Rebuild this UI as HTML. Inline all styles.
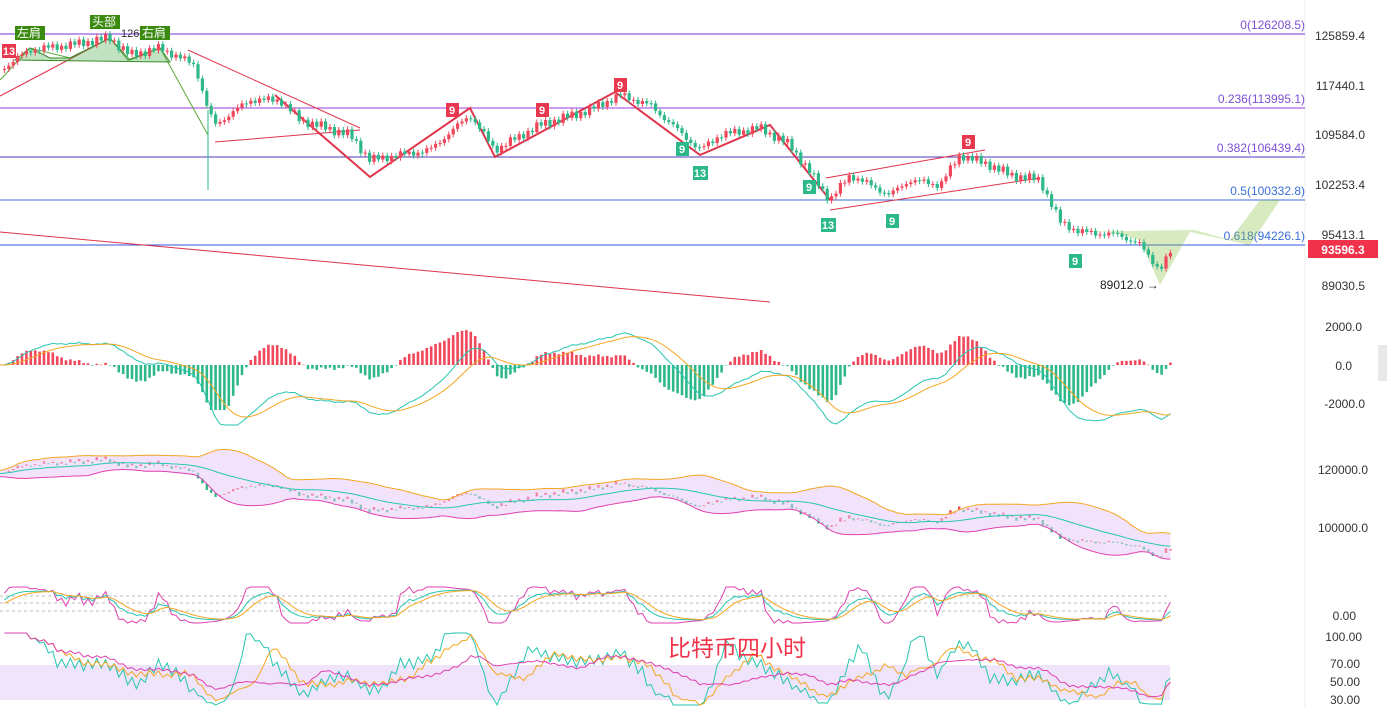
<!DOCTYPE html>
<html><head><meta charset="utf-8">
<style>
html,body{margin:0;padding:0;background:#fff;width:1387px;height:708px;overflow:hidden;font-family:"Liberation Sans","Noto Sans CJK SC",sans-serif}
svg{position:absolute;left:0;top:0}
</style></head>
<body>
<svg id="s" width="1387" height="708" xmlns="http://www.w3.org/2000/svg" font-family="Liberation Sans, Noto Sans CJK SC, sans-serif">
<line x1="1305" y1="0" x2="1305" y2="708" stroke="#eee"/>
<line x1="0" y1="34" x2="1305" y2="34" stroke="#7b2fd6" stroke-width="1"/>
<line x1="0" y1="108" x2="1305" y2="108" stroke="#a03ad8" stroke-width="1"/>
<line x1="0" y1="157" x2="1305" y2="157" stroke="#4b3ab8" stroke-width="1"/>
<line x1="0" y1="200" x2="1305" y2="200" stroke="#3b6fd8" stroke-width="1"/>
<line x1="0" y1="245" x2="1305" y2="245" stroke="#3355dd" stroke-width="1"/>
<g font-size="12" fill="#7b4fd6" text-anchor="end">
<text x="1305" y="29">0(126208.5)</text>
<text x="1305" y="103">0.236(113995.1)</text>
<text x="1305" y="152">0.382(106439.4)</text>
<text x="1305" y="195" fill="#3b6fd8">0.5(100332.8)</text>
<text x="1305" y="240" fill="#3b6fd8">0.618(94226.1)</text>
</g>
<g font-size="12" fill="#333" text-anchor="end">
<text x="1365" y="40">125859.4</text>
<text x="1365" y="90">117440.1</text>
<text x="1365" y="139">109584.0</text>
<text x="1365" y="189">102253.4</text>
<text x="1365" y="239">95413.1</text>
<text x="1365" y="290">89030.5</text>
<text x="1362" y="331">2000.0</text>
<text x="1352" y="370">0.0</text>
<text x="1365" y="408">-2000.0</text>
<text x="1368" y="474">120000.0</text>
<text x="1368" y="532">100000.0</text>
<text x="1356" y="620">0.00</text>
<text x="1362" y="641">100.00</text>
<text x="1360" y="668">70.00</text>
<text x="1360" y="686">50.00</text>
<text x="1360" y="704">30.00</text>
</g>
<rect x="1308" y="240" width="70" height="18" fill="#f0334a"/>
<text x="1343" y="254" font-size="12" fill="#fff" text-anchor="middle" font-weight="bold">93596.3</text>
<rect x="1378" y="345" width="9" height="36" fill="#e8e8e8"/>
<line x1="0" y1="232" x2="770" y2="302" stroke="#e0344a" stroke-width="1"/>
<line x1="0" y1="96" x2="110" y2="38" stroke="#e0344a"/>
<line x1="188" y1="50" x2="360" y2="128" stroke="#e0344a"/>
<line x1="215" y1="142" x2="360" y2="130" stroke="#e0344a"/>
<line x1="826" y1="178" x2="985" y2="150" stroke="#e0344a"/>
<line x1="830" y1="210" x2="1040" y2="178" stroke="#e0344a"/>
<polyline points="275,95 370,177 470,108 495,157 615,92 700,155 770,125 830,200" fill="none" stroke="#e0344a" stroke-width="2"/>
<polyline points="0,80 30,48 70,58 110,38 130,60 160,48 208,135" fill="none" stroke="#5aa832" stroke-width="1"/>
<polygon points="15,60 30,48 50,58 70,58 110,38 128,60 160,48 170,62" fill="#4caf50" fill-opacity="0.35" stroke="#3a8a2a"/>
<polygon points="1065,232 1110,232 1140,240 1160,285 1190,232 1250,245 1280,200 1260,200 1230,240 1195,230" fill="#8bc34a" fill-opacity="0.35"/>
<g font-size="12" fill="#fff">
<rect x="15" y="26" width="30" height="14" fill="#3a8a10"/><text x="17" y="37">左肩</text>
<rect x="90" y="15" width="30" height="14" fill="#3a8a10"/><text x="92" y="26">头部</text>
<rect x="140" y="26" width="30" height="14" fill="#3a8a10"/><text x="142" y="37">右肩</text>
</g>
<text x="121" y="37" font-size="11" fill="#333">126</text>
<text x="1100" y="289" font-size="12" fill="#222">89012.0 →</text>
<g id="cd"></g>
<g font-size="11" font-weight="bold" fill="#fff" text-anchor="middle">
<rect x="2" y="44" width="14" height="14" fill="#e8384f"/><text x="9" y="55">13</text>
<rect x="446" y="103" width="13" height="14" fill="#e8384f"/><text x="452" y="114">9</text>
<rect x="536" y="103" width="13" height="14" fill="#e8384f"/><text x="542" y="114">9</text>
<rect x="614" y="78" width="13" height="14" fill="#e8384f"/><text x="620" y="89">9</text>
<rect x="962" y="135" width="13" height="14" fill="#e8384f"/><text x="968" y="146">9</text>
<rect x="676" y="142" width="13" height="14" fill="#2db88a"/><text x="682" y="153">9</text>
<rect x="693" y="166" width="15" height="14" fill="#2db88a"/><text x="700" y="177">13</text>
<rect x="803" y="180" width="13" height="14" fill="#2db88a"/><text x="809" y="191">9</text>
<rect x="821" y="218" width="15" height="14" fill="#2db88a"/><text x="828" y="229">13</text>
<rect x="886" y="214" width="13" height="14" fill="#2db88a"/><text x="892" y="225">9</text>
<rect x="1069" y="254" width="13" height="14" fill="#2db88a"/><text x="1075" y="265">9</text>
</g>
<rect x="0" y="665" width="1170" height="35" fill="#e8d8f8" fill-opacity="0.7"/>
<line x1="0" y1="596" x2="1170" y2="596" stroke="#bbb" stroke-dasharray="3,3"/>
<line x1="0" y1="603" x2="1170" y2="603" stroke="#bbb" stroke-dasharray="3,3"/>
<line x1="0" y1="611" x2="1170" y2="611" stroke="#bbb" stroke-dasharray="3,3"/>
<g id="ind"></g>
<text x="668" y="656" font-size="23" fill="#f0334a">比特币四小时</text>
</svg>
<script>
var K=[[0,70],[30,50],[70,45],[110,38],[130,55],[160,48],[195,65],[208,110],[215,125],[250,100],[280,100],[300,120],[350,135],[370,160],[400,155],[430,150],[470,115],[495,150],[540,125],[590,110],[620,95],[650,105],[700,150],[720,135],[760,128],[790,145],[830,200],[850,175],[890,195],[910,180],[940,185],[960,155],[990,165],[1010,175],[1040,180],[1060,222],[1080,232],[1120,235],[1140,245],[1160,270],[1172,250]];
function f(x){for(var i=1;i<K.length;i++){if(x<=K[i][0]){var a=K[i-1],b=K[i];return a[1]+(b[1]-a[1])*(x-a[0])/(b[0]-a[0]);}}return 250;}
var NS="http://www.w3.org/2000/svg",cd=document.getElementById('cd'),ind=document.getElementById('ind');
function el(g,t,a){var e=document.createElementNS(NS,t);for(var k in a)e.setAttribute(k,a[k]);g.appendChild(e);return e;}
var xs=[],ys=[];for(var x=0;x<=1172;x+=4.4){xs.push(x);ys.push(f(x)+Math.sin(x*0.7)*3+Math.sin(x*0.23)*2);}
for(var i=1;i<xs.length;i++){var o=ys[i-1],c=ys[i],up=c<o,col=up?'#f0475a':'#2eb88a';var t=Math.min(o,c),h=Math.max(Math.abs(c-o),1);
el(cd,'line',{x1:xs[i],x2:xs[i],y1:t-3,y2:t+h+3,stroke:col});el(cd,'rect',{x:xs[i]-1.6,y:t,width:3.2,height:h,fill:col});
var by=460+(ys[i]-38)*0.42;el(ind,'rect',{x:xs[i]-1.2,y:by-h*0.3,width:2.4,height:Math.max(h*0.4,1),fill:col});}
el(cd,'line',{x1:208,x2:208,y1:110,y2:190,stroke:'#2eb88a'});
var ef=-ys[0],es=-ys[0],dea=0,mp=[],dp=[];
for(var i=0;i<ys.length;i++){var p=-ys[i];ef=ef+(p-ef)*2/13;es=es+(p-es)*2/27;var dif=ef-es;dea=dea+(dif-dea)*2/10;var hh=(dif-dea)*7;
hh=Math.max(-45,Math.min(40,hh));
var col=hh>0?'#f0475a':'#2eb88a';el(ind,'rect',{x:xs[i]-1.3,y:Math.min(365,365-hh),width:2.6,height:Math.max(Math.abs(hh),0.5),fill:col});
mp.push(xs[i]+','+(365-Math.max(-60,Math.min(45,dif*3.5))));dp.push(xs[i]+','+(365-Math.max(-55,Math.min(40,dea*3.5))));}
el(ind,'polyline',{points:mp.join(' '),fill:'none',stroke:'#26c6b0'});el(ind,'polyline',{points:dp.join(' '),fill:'none',stroke:'#f5a623'});
var up=[],lo=[],md=[];for(var i=0;i<ys.length;i++){var s=0,n=0,q=0;for(var j=Math.max(0,i-20);j<=i;j++){s+=ys[j];n++;}var m=s/n;for(j=Math.max(0,i-20);j<=i;j++)q+=(ys[j]-m)*(ys[j]-m);var sd=Math.sqrt(q/n)+4;
var my=460+(m-38)*0.42;md.push(xs[i]+','+my);up.push(xs[i]+','+(my-sd*0.8));lo.push(xs[i]+','+(my+sd*0.8));}
el(ind,'polygon',{points:up.join(' ')+' '+lo.slice().reverse().join(' '),fill:'#e8c8f5',"fill-opacity":0.5});
el(ind,'polyline',{points:up.join(' '),fill:'none',stroke:'#f5a623'});el(ind,'polyline',{points:lo.join(' '),fill:'none',stroke:'#e040b0'});el(ind,'polyline',{points:md.join(' '),fill:'none',stroke:'#26c6b0'});
var k1=[],k2=[],k3=[],r1=[],r2=[],r3=[],a=50,b=50,cc=50,ra=50,rb=50,rc=50;
function rsi(i,n){var g=0,l=0;for(var j=Math.max(1,i-n);j<=i;j++){var d=ys[j-1]-ys[j];if(d>0)g+=d;else l-=d;}return g+l==0?50:100*g/(g+l);}
for(var i=1;i<ys.length;i++){var mx=-1e9,mn=1e9;for(var j=Math.max(0,i-9);j<=i;j++){mx=Math.max(mx,ys[j]);mn=Math.min(mn,ys[j]);}
var v=mx==mn?50:100*(mx-ys[i])/(mx-mn);a+=(v-a)/3;b+=(a-b)/3;cc=3*a-2*b;
k1.push(xs[i]+','+(620-a*0.3));k2.push(xs[i]+','+(620-b*0.3));k3.push(xs[i]+','+(620-Math.max(-10,Math.min(110,cc))*0.3));
var q1=rsi(i,6),q2=rsi(i,12),q3=rsi(i,24);
r1.push(xs[i]+','+(705-q1*0.72));r2.push(xs[i]+','+(705-q2*0.72));r3.push(xs[i]+','+(705-q3*0.72));}
[[k3,'#e040b0'],[k1,'#26c6b0'],[k2,'#f5a623'],[r1,'#26c6b0'],[r2,'#f5a623'],[r3,'#e040b0']].forEach(function(z){el(ind,'polyline',{points:z[0].join(' '),fill:'none',stroke:z[1]});});
</script>
</body></html>
